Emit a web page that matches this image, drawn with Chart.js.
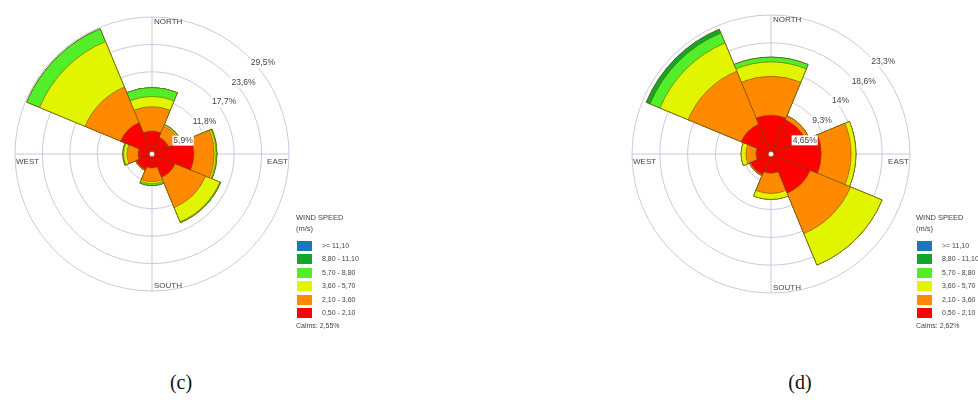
<!DOCTYPE html>
<html>
<head>
<meta charset="utf-8">
<script src="https://cdn.jsdelivr.net/npm/chart.js@4.4.0/dist/chart.umd.min.js"></script>
<style>
  body { margin: 0; width: 978px; height: 406px; overflow: hidden; background: #fff; position: relative;
         font-family: 'Liberation Sans', Arial, sans-serif; }
  canvas { position: absolute; }
  .lg { position: absolute; color: #444; font-size: 7.5px; white-space: nowrap; }
  .lg .t { position: absolute; left: 0; }
  .lg .box { position: absolute; left: 1px; width: 15px; height: 10px; }
  .lg .txt { position: absolute; left: 26px; font-size: 7px; }
  .cap { position: absolute; width: 60px; text-align: center; font-family: 'Liberation Serif', 'Times New Roman', serif; font-size: 20px; color: #111; }
</style>
</head>
<body>
<canvas id="roseC" width="300" height="300" style="left:2px; top:4px"></canvas>
<canvas id="roseD" width="300" height="300" style="left:621px; top:4px"></canvas>
<div class="lg" id="legendC" style="left:296px; top:213px"></div>
<div class="lg" id="legendD" style="left:916px; top:213px"></div>
<div class="cap" style="left:151px; top:371px">(c)</div>
<div class="cap" style="left:770px; top:371px">(d)</div>
<script>
// 8 sectors, clockwise from north
const directions = ['N', 'NE', 'E', 'SE', 'S', 'SW', 'W', 'NW'];
const compassNames = ['NORTH', 'EAST', 'SOUTH', 'WEST'];

// speed classes, slowest first
const speedBins = ['0,50 - 2,10', '2,10 - 3,60', '3,60 - 5,70', '5,70 - 8,80', '8,80 - 11,10', '>= 11,10'];
const binColors = ['#ff0000', '#ff8a00', '#e2f500', '#52ee2a', '#14a62a', '#1a78b8'];

// rose (c), frequency in % per speed class
const c_050_210 = [4.95, 3.9, 9.0, 5.4, 3.0, 3.6, 3.0, 7.3];
const c_210_360 = [5.25, 2.6, 4.4, 7.1, 3.0, 0.2, 2.4, 8.3];
const c_360_570 = [2.2, 0.3, 0.4, 3.3, 0.4, 0.0, 0.7, 10.6];
const c_570_880 = [1.9, 0.1, 0.2, 0.2, 0.4, 0.0, 0.2, 3.0];
const c_880_1110 = [0, 0, 0, 0, 0, 0, 0, 0];
const c_1110 = [0, 0, 0, 0, 0, 0, 0, 0];
const ticksC = [0, 5.9, 11.8, 17.7, 23.6, 29.5];
const tickLabelsC = ['', '5,9%', '11,8%', '17,7%', '23,6%', '29,5%'];
const calmsC = 'Calms: 2,55%';

// rose (d)
const d_050_210 = [6.5, 6.2, 8.4, 7.1, 3.2, 3.7, 2.5, 5.4];
const d_210_360 = [6.5, 0.7, 5.0, 7.3, 3.4, 0.2, 1.7, 9.6];
const d_360_570 = [2.4, 0.0, 0.8, 5.7, 1.0, 0.0, 0.8, 5.1];
const d_570_880 = [0.8, 0, 0, 0, 0, 0, 0, 1.8];
const d_880_1110 = [0, 0, 0, 0, 0, 0, 0, 0.7];
const d_1110 = [0, 0, 0, 0, 0, 0, 0, 0];
const ticksD = [0, 4.65, 9.3, 13.95, 18.6, 23.25];
const tickLabelsD = ['', '4,65%', '9,3%', '14%', '18,6%', '23,3%'];
const calmsD = 'Calms: 2,62%';

const gridColor = '#c9c9e2';
const labelColor = '#444';

// stack the classes: each ring is drawn from the centre, biggest underneath
function cumulate(bins) {
    let acc = directions.map(() => 0);
    return bins.map(b => (acc = acc.map((a, i) => +(a + b[i]).toFixed(3))));
}

const roseDecor = {
    id: 'roseDecor',
    beforeDatasetsDraw(chart) {
        const r = chart.scales.r, ctx = chart.ctx;
        const R = r.drawingArea, cx = r.xCenter, cy = r.yCenter;
        ctx.save();
        ctx.strokeStyle = gridColor;
        ctx.lineWidth = 1;
        ctx.beginPath();
        ctx.moveTo(cx - R, cy); ctx.lineTo(cx + R, cy);
        ctx.moveTo(cx, cy - R); ctx.lineTo(cx, cy + R);
        ctx.stroke();
        ctx.restore();
    },
    afterDatasetsDraw(chart, args, opts) {
        const r = chart.scales.r, ctx = chart.ctx;
        const R = r.drawingArea, cx = r.xCenter, cy = r.yCenter;
        ctx.save();

        // calm circle
        ctx.fillStyle = '#fff';
        ctx.strokeStyle = 'rgba(90,60,0,0.6)';
        ctx.lineWidth = 0.6;
        ctx.beginPath(); ctx.arc(cx, cy, 2.6, 0, Math.PI * 2); ctx.fill(); ctx.stroke();

        // percentage labels on the 45deg diagonal, nudged down-right
        ctx.font = '8.5px "Liberation Sans", Arial, sans-serif';
        ctx.textBaseline = 'middle';
        ctx.textAlign = 'left';
        r.ticks.forEach((t, i) => {
            const txt = opts.tickLabels[i];
            if (!txt) return;
            const d = r.getDistanceFromCenterForValue(t.value) * Math.SQRT1_2;
            const x = cx + d + 2, y = cy - d + 6;
            const w = ctx.measureText(txt).width;
            ctx.fillStyle = '#fff';
            ctx.fillRect(x - 1, y - 5, w + 2, 10);
            ctx.fillStyle = labelColor;
            ctx.fillText(txt, x, y);
        });

        // compass names
        ctx.font = '8px "Liberation Sans", Arial, sans-serif';
        ctx.fillStyle = labelColor;
        ctx.textAlign = 'left'; ctx.textBaseline = 'top';
        ctx.fillText(compassNames[0], cx + 2, cy - R + 1);
        ctx.textBaseline = 'bottom';
        ctx.fillText(compassNames[2], cx + 2, cy + R - 1);
        ctx.textBaseline = 'top';
        ctx.textAlign = 'right';
        ctx.fillText(compassNames[1], cx + R - 1, cy + 4);
        ctx.textAlign = 'left';
        ctx.fillText(compassNames[3], cx - R + 1, cy + 4);
        ctx.restore();
    }
};

function makeRose(id, bins, ticks, tickLabels, pad) {
    const cum = cumulate(bins);
    return new Chart(document.getElementById(id), {
        type: 'polarArea',
        data: {
            labels: directions,
            datasets: cum.map((vals, k) => ({
                label: speedBins[k],
                data: vals,
                backgroundColor: binColors[k],
                borderColor: 'rgba(100,70,0,0.75)',
                borderWidth: 0.7
            }))
        },
        options: {
            responsive: false,
            animation: false,
            layout: { padding: pad },
            plugins: {
                legend: { display: false },
                tooltip: { enabled: false },
                roseDecor: { tickLabels: tickLabels }
            },
            scales: {
                r: {
                    startAngle: -22.5,
                    min: 0,
                    max: ticks[ticks.length - 1],
                    afterBuildTicks: s => { s.ticks = ticks.map(v => ({ value: v })); },
                    ticks: { display: false },
                    pointLabels: { display: false },
                    angleLines: { display: false },
                    grid: { circular: true, color: gridColor, lineWidth: 1 }
                }
            }
        },
        plugins: [roseDecor]
    });
}

makeRose('roseC', [c_050_210, c_210_360, c_360_570, c_570_880, c_880_1110, c_1110], ticksC, tickLabelsC, 13);
makeRose('roseD', [d_050_210, d_210_360, d_360_570, d_570_880, d_880_1110, d_1110], ticksD, tickLabelsD, 11);

// legend, fastest class on top
function makeLegend(id, calms) {
    const el = document.getElementById(id);
    let html = '<div class="t" style="top:0">WIND SPEED</div><div class="t" style="top:11px">(m/s)</div>';
    const order = speedBins.map((_, i) => speedBins.length - 1 - i);
    order.forEach((k, row) => {
        const top = 28 + row * 13.4;
        html += '<div class="box" style="top:' + top + 'px;background:' + binColors[k] + '"></div>';
        html += '<div class="txt" style="top:' + (top + 1) + 'px">' + speedBins[k].replace('>=', '&gt;=') + '</div>';
    });
    html += '<div class="t" style="top:' + (28 + 6 * 13.4 + 1) + 'px;font-size:7px">' + calms + '</div>';
    el.innerHTML = html;
}
makeLegend('legendC', calmsC);
makeLegend('legendD', calmsD);
</script>
</body>
</html>
